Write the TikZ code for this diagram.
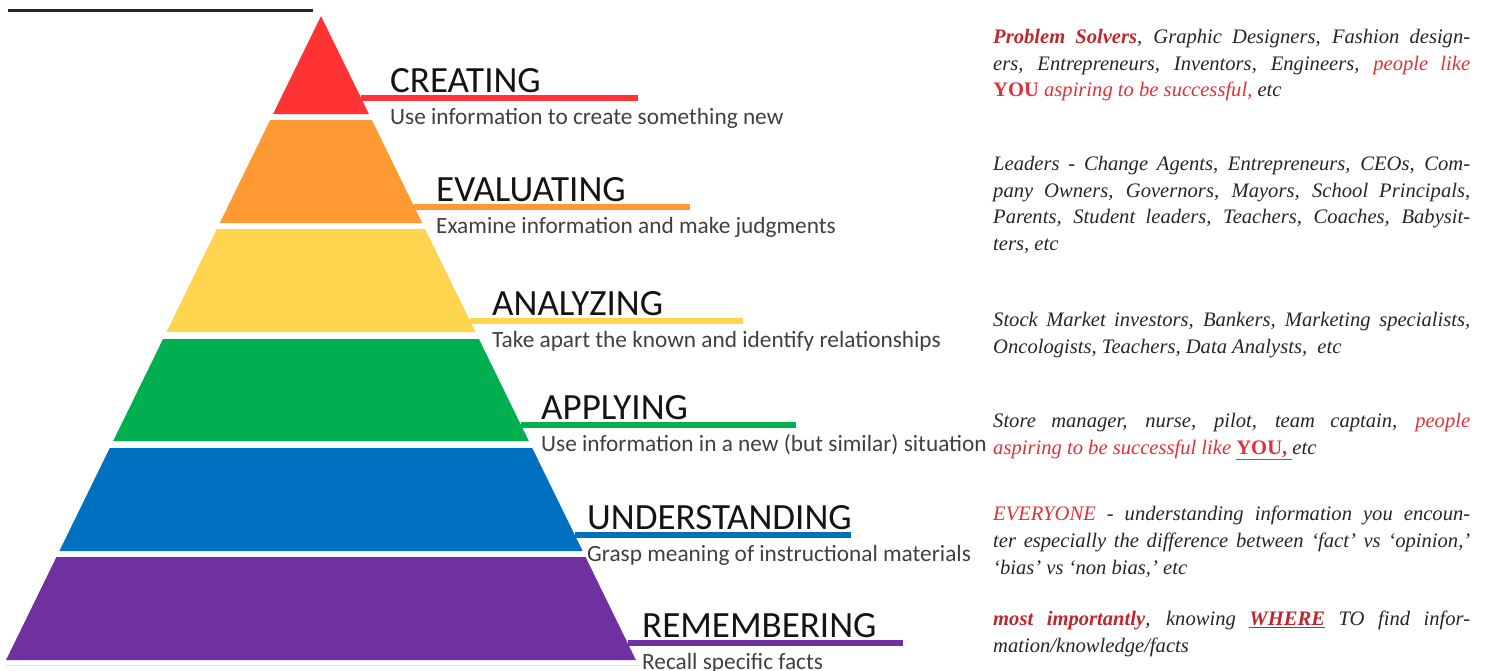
\documentclass[tikz,border=0pt]{standalone}
\usepackage{fontspec}
\setmainfont{Liberation Serif}
\newfontfamily\labfont{Carlito}
\definecolor{cR}{HTML}{FF3333}
\definecolor{cO}{HTML}{FF9933}
\definecolor{cY}{HTML}{FFD54F}
\definecolor{cG}{HTML}{00B050}
\definecolor{cB}{HTML}{0070C0}
\definecolor{cP}{HTML}{7030A0}
\definecolor{dred}{HTML}{BE272D}
\definecolor{tred}{HTML}{E0303A}
\definecolor{txt}{HTML}{262626}
\definecolor{desc}{HTML}{404040}
\begin{document}
\begin{tikzpicture}[x=1pt,y=-1pt,
  title/.style={anchor=base west,inner sep=0,font=\labfont\fontsize{37}{42}\selectfont,text=black!92},
  sub/.style={anchor=base west,inner sep=0,font=\labfont\fontsize{23.3}{26}\selectfont,text=desc},
  block/.style={anchor=north west,inner sep=0,text width=477pt,align=justify,text=txt,
     font=\fontsize{20.6}{26.7}\selectfont\itshape},
  bar/.style={line width=5.5pt}]
\useasboundingbox (0,0) rectangle (1486,670);
\hyphenpenalty=10000 \tolerance=10000 \pretolerance=10000
% top-left rule
\coordinate (tl1) at (8,10);
\coordinate (tl2) at (313,10);
\draw[line width=3pt,black!85] (tl1) -- (tl2);
% pyramid layers
\foreach \t/\b/\c in {16/114/cR,120/223/cO,229/332/cY,339/441/cG,448/551/cB,557/660/cP}{
  \fill[\c] ({321-0.489*(\t-16)},\t) -- ({321+0.489*(\t-16)},\t) -- ({321+0.489*(\b-16)},\b) -- ({321-0.489*(\b-16)},\b) -- cycle;
}
\coordinate (g1) at (6,665);
\coordinate (g2) at (640,665);
\draw[line width=1pt,black!12] (g1) -- (g2);
% bars, titles, descriptions
\foreach \n/\ly/\ex/\tx/\c/\T/\D in {
  cr/98/638/390/cR/CREATING/Use information to create something new,
  ev/207/690/436/cO/EVALUATING/Examine information and make judgments,
  an/321/743/492/cY/ANALYZING/Take apart the known and identify relationships,
  ap/425/796/541/cG/APPLYING/Use information in a new (but similar) situation,
  un/535/851/587/cB/UNDERSTANDING/Grasp meaning of instructional materials,
  re/643/903/642/cP/REMEMBERING/Recall specific facts}{
  \coordinate (\n s) at ({321+0.489*(\ly-16)},\ly);
  \coordinate (\n e) at (\ex,\ly);
  \draw[bar,\c] (\n s) -- (\n e);
  \node[title] (\n t) at (\tx,\ly-6) {\T};
  \node[sub] (\n d) at (\tx,\ly+26) {\D};
}
% right text blocks
\node[block] (b1) at (993,29) {{\color{dred}\textbf{Problem Solvers}}, Graphic Designers, Fashion design-\linebreak ers, Entrepreneurs, Inventors, Engineers, {\color{tred}people like}\linebreak {\color{tred}\textbf{\upshape YOU} aspiring to be successful,} etc};
\node[block] (b2) at (993,156) {Leaders - Change Agents, Entrepreneurs, CEOs, Com-\linebreak pany Owners, Governors, Mayors, School Principals,\linebreak Parents, Student leaders, Teachers, Coaches, Babysit-\linebreak ters, etc};
\node[block] (b3) at (993,312) {Stock Market investors, Bankers, Marketing specialists,\linebreak Oncologists, Teachers, Data Analysts,~ etc};
\node[block] (b4) at (993,413) {Store manager, nurse, pilot, team captain, {\color{tred}people}\linebreak {\color{tred}aspiring to be successful like \underline{\textbf{\upshape YOU,}\ }}etc};
\node[block] (b5) at (993,506) {{\color{tred}EVERYONE} - understanding information you encoun-\linebreak ter especially the difference between `fact' vs `opinion,'\linebreak `bias' vs `non bias,' etc};
\node[block] (b6) at (993,611) {{\color{dred}\textbf{most importantly}}, knowing {\color{dred}\underline{\textbf{WHERE}}} TO find infor-\linebreak mation/knowledge/facts};
\end{tikzpicture}
\end{document}
